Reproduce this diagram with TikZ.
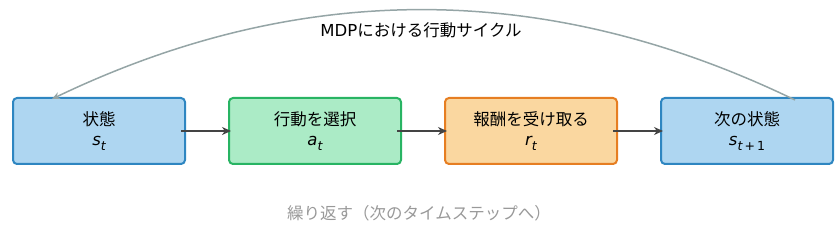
\documentclass[tikz,border=0pt]{standalone}
\usepackage{fontspec}
\setmainfont{DejaVu Sans}
\newfontfamily\jp{Noto Sans CJK JP}
\newfontfamily\dvi{DejaVu Sans Oblique}
\usetikzlibrary{arrows.meta}
\definecolor{bfill}{HTML}{AED6F1}
\definecolor{bdraw}{HTML}{2E86C1}
\definecolor{gfill}{HTML}{ABEBC6}
\definecolor{gdraw}{HTML}{28B463}
\definecolor{ofill}{HTML}{FAD7A0}
\definecolor{odraw}{HTML}{E67E22}
\definecolor{arr}{HTML}{444444}
\definecolor{loopc}{HTML}{95A5A6}
\definecolor{note}{HTML}{999999}
\newcommand\mvar[2]{{\dvi #1}\raisebox{-0.28em}{\fontsize{12.5}{12.5}\selectfont #2}}
\tikzset{
  stepbox/.style={draw, line width=2pt, rounded corners=4pt, minimum width=172pt, minimum height=66pt, align=center, inner sep=0pt, font=\fontsize{16.5}{20}\selectfont},
  flow/.style={draw=arr, line width=2pt, -{Stealth[length=9pt,width=8pt]}},
  loop/.style={draw=loopc, line width=1.5pt, -{Stealth[length=8pt,width=7pt]}}
}
\begin{document}
\begin{tikzpicture}[x=1pt,y=-1pt]
\useasboundingbox (0,0) rectangle (840,229);
\node[stepbox, fill=bfill, draw=bdraw] (b1) at (99,131) {{\jp 状態}\\\mvar{s}{\dvi t}};
\node[stepbox, fill=gfill, draw=gdraw] (b2) at (315,131) {{\jp 行動を選択}\\\mvar{a}{\dvi t}};
\node[stepbox, fill=ofill, draw=odraw] (b3) at (531,131) {{\jp 報酬を受け取る}\\\mvar{r}{\dvi t}};
\node[stepbox, fill=bfill, draw=bdraw] (b4) at (747,131) {{\jp 次の状態}\\\mvar{s}{{\dvi t}\,+\,1}};
\draw[flow] ([xshift=-5pt]b1.east) -- ([xshift=3pt]b2.west);
\draw[flow] ([xshift=-5pt]b2.east) -- ([xshift=3pt]b3.west);
\draw[flow] ([xshift=-5pt]b3.east) -- ([xshift=3pt]b4.west);
\coordinate (ls) at ([xshift=48pt,yshift=-3pt]b4.north);
\coordinate (le) at ([xshift=-47pt,yshift=-2pt]b1.north);
\draw[loop] (ls) .. controls (547,-20) and (300,-20) .. (le);
\node[font=\fontsize{16.5}{20}\selectfont] (title) at (421,30) {MDP{\jp における行動サイクル}};
\node[font=\fontsize{16.5}{20}\selectfont\jp, text=note] (rep) at (419,213) {繰り返す（次のタイムステップへ）};
\end{tikzpicture}
\end{document}
